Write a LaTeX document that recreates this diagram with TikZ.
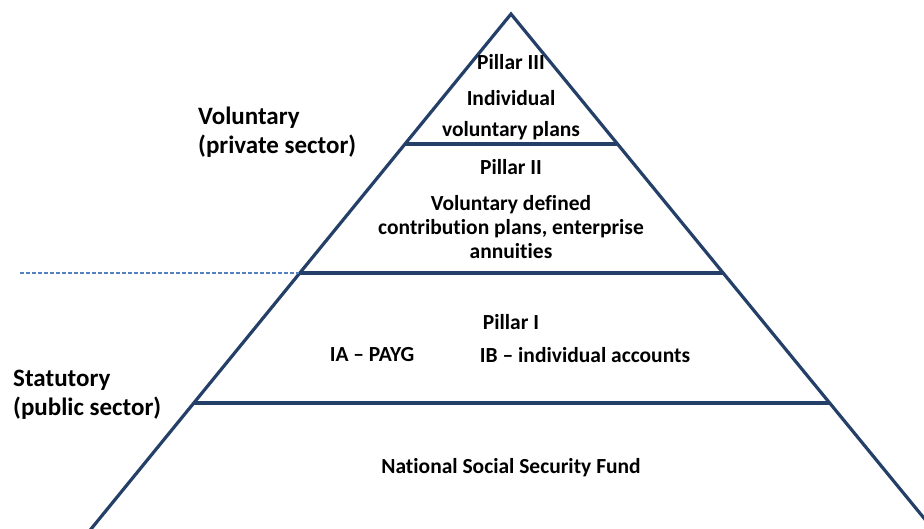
\documentclass[tikz,border=0pt]{standalone}
\usepackage{fontspec}
\setmainfont[Ligatures=NoCommon]{Carlito}
\definecolor{pyrblue}{RGB}{36,64,104}
\definecolor{dashblue}{RGB}{84,130,190}
\tikzset{
  pillar/.style={font=\bfseries\fontsize{21.5}{24}\selectfont, align=center, inner sep=0pt},
  sector/.style={font=\bfseries\fontsize{25}{29}\selectfont, align=left, anchor=west, inner sep=0pt},
  edge/.style={pyrblue, line width=3.2pt}
}
\begin{document}
\begin{tikzpicture}[x=1pt, y=-1pt]
\useasboundingbox (0,0) rectangle (924,529);

\coordinate (top) at (511,14);
\coordinate (bl) at (78,545);
\coordinate (br) at (946,545);

\draw[edge, line join=miter] (bl) -- (top) -- (br);
\draw[edge] (405,144) -- (617,144);
\draw[edge] (299,273) -- (723,273);
\draw[edge] (193,403) -- (829,403);

\draw[dashblue, line width=1.3pt, dash pattern=on 4pt off 2pt] (20,273) -- (299,273);

\node[pillar] (p3) at (511,62) {Pillar III};
\node[pillar] (p3a) at (511,98) {Individual};
\node[pillar] (p3b) at (511,131) {voluntary plans};

\node[pillar] (p2) at (511,167) {Pillar II};
\node[pillar] (p2a) at (511,227) {Voluntary defined\\contribution plans, enterprise\\annuities};

\node[pillar] (p1) at (511,322) {Pillar I};
\node[pillar] (ia) at (372,355) {IA -- PAYG};
\node[pillar] (ib) at (585,355) {IB -- individual accounts};

\node[pillar] (fund) at (511,468) {National Social Security Fund};

\node[sector] (vol) at (198,132) {Voluntary\\(private sector)};
\node[sector] (stat) at (13,395) {Statutory\\(public sector)};
\end{tikzpicture}
\end{document}
